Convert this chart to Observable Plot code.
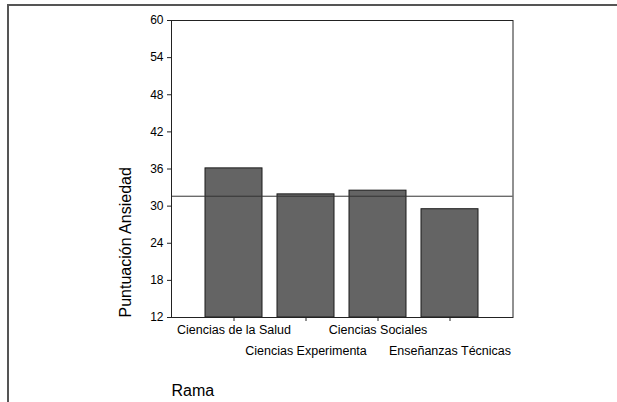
<!DOCTYPE html>
<html>
<head>
<meta charset="utf-8">
<script src="https://cdn.jsdelivr.net/npm/d3@7"></script>
<script src="https://cdn.jsdelivr.net/npm/@observablehq/plot@0.6"></script>
<style>
  html, body { margin: 0; padding: 0; background: #fff; }
  #wrap { position: relative; width: 617px; height: 402px; overflow: hidden; }
  #wrap svg { position: absolute; left: 0; top: 0; }
  #border { position: absolute; left: 7px; top: 4px; right: -2px; bottom: -2px;
            border-top: 2px solid #555; border-left: 2px solid #555; pointer-events: none; }
</style>
</head>
<body>
<div id="wrap"><div id="border"></div></div>
<script>
const categories = ["Ciencias de la Salud", "Ciencias Experimenta", "Ciencias Sociales", "Enseñanzas Técnicas"];
const values = [36.1, 31.9, 32.5, 29.5];
const referenceValue = 31.6;
const yTicks = [12, 18, 24, 30, 36, 42, 48, 54, 60];
const yMin = 12, yMax = 60;
const yTitle = "Puntuación Ansiedad";
const xTitle = "Rama";

const data = categories.map((c, i) => ({rama: c, value: values[i]}));
const row1 = categories.filter((d, i) => i % 2 === 0);
const row2 = categories.filter((d, i) => i % 2 === 1);

const chart = Plot.plot({
  width: 617,
  height: 402,
  marginLeft: 171,
  marginRight: 104.5,
  marginTop: 20,
  marginBottom: 85,
  style: {fontFamily: "'Liberation Sans', Arial, sans-serif", fontSize: "12px", color: "#000", background: "transparent"},
  x: {domain: categories, paddingInner: 0.21, paddingOuter: 0.46, label: null, axis: null},
  y: {domain: [yMin, yMax], label: null, axis: null},
  marks: [
    Plot.barY(data, {x: "rama", y1: yMin, y2: "value", fill: "#646464", stroke: "#1a1a1a", strokeWidth: 1}),
    Plot.ruleY([referenceValue], {stroke: "#333", strokeWidth: 1}),
    Plot.frame({stroke: "#222", strokeWidth: 1}),
    Plot.axisY({ticks: yTicks, tickSize: 4, tickPadding: 4, fontSize: 12, label: null, stroke: "#222", fill: "#000"}),
    Plot.axisX({ticks: categories, tickSize: 4, tickFormat: () => "", label: null, stroke: "#222"}),
    Plot.axisX({ticks: row1, tickSize: 0, tickPadding: 8, fontSize: 12.5, label: null, fill: "#000"}),
    Plot.axisX({ticks: row2, tickSize: 0, tickPadding: 29, fontSize: 12.5, label: null, fill: "#000"}),
    Plot.text([yTitle], {frameAnchor: "bottom-left", text: d => d, rotate: -90, textAnchor: "start", dx: -41, fontSize: 16, fill: "#000"}),
    Plot.text([xTitle], {frameAnchor: "bottom-left", text: d => d, textAnchor: "start", dy: 78, fontSize: 16, fill: "#000"})
  ]
});
document.getElementById("wrap").insertBefore(chart, document.getElementById("border"));
</script>
</body>
</html>
